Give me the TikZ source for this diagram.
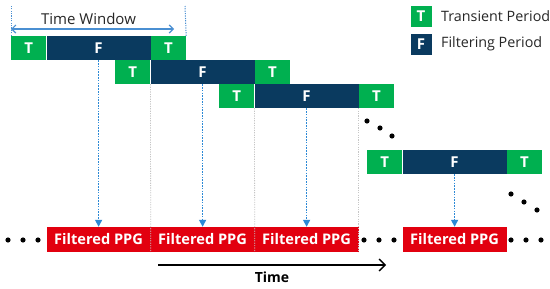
\documentclass[tikz,border=0pt]{standalone}
\usepackage{fontspec}
\setmainfont{Open Sans}
\usetikzlibrary{arrows.meta, positioning}
\definecolor{cgreen}{HTML}{00B050}
\definecolor{cnavy}{HTML}{0A3A5F}
\definecolor{cred}{HTML}{E2000F}
\definecolor{cblue}{HTML}{2C89D6}
\definecolor{cwin}{HTML}{4A8FD2}
\definecolor{cgrey}{HTML}{C6C6C6}
\tikzset{
  every picture/.style={x=1pt, y=-1pt},
  cell/.style={fill=#1, inner sep=0pt, minimum height=24pt, text=white, font=\bfseries\fontsize{15}{15}\selectfont},
  tcell/.style={cell=cgreen, minimum width=35pt},
  fcell/.style={cell=cnavy, minimum width=104pt},
  ppg/.style={fill=cred, inner sep=0pt, minimum width=104pt, minimum height=25pt, text=white, font=\bfseries\fontsize{14.6}{14.6}\selectfont},
  flow/.style={-{Triangle[length=7pt, width=7pt]}, draw=cblue, line width=1.5pt, dash pattern=on 1.6pt off 1.2pt},
  guide/.style={draw=cgrey, line width=0.8pt, dash pattern=on 1.2pt off 1.2pt},
}
\begin{document}
\begin{tikzpicture}[
  legbox/.style={inner sep=0pt, minimum size=21pt, text=white, font=\bfseries\fontsize{15}{15}\selectfont},
  legtext/.style={right=6pt, font=\fontsize{14.3}{14.3}\selectfont, text=black!85},
  dot/.style={fill=black}]
  \useasboundingbox (0,0) rectangle (550,289);
  % window rows
  \foreach \n/\x/\y in {1/11/48, 2/115/72, 3/219/96, 4/367/162} {
    \node[tcell, anchor=west] (t\n a) at (\x,\y) {T};
    \node[fcell, right=0pt of t\n a] (f\n) {F};
    \node[tcell, right=0pt of f\n] (t\n b) {T};
  }
  % time window
  \coordinate (w1) at (11,6);
  \coordinate (w2) at (185,6);
  \draw[draw=cwin, line width=1pt, dash pattern=on 1.2pt off 1.2pt] (t1a.north west) -- (w1);
  \draw[draw=cwin, line width=1pt, dash pattern=on 1.2pt off 1.2pt] (t1b.north east) -- (w2);
  \coordinate (wa) at (11,29);
  \coordinate (wb) at (174,29);
  \draw[{Straight Barb[length=4pt]}-{Straight Barb[length=4pt]}, draw=cwin, line width=1.2pt] (wa) -- node[above=0pt, xshift=-4pt, text=black!85, font=\fontsize{15}{15}\selectfont] {Time Window} (wb);
  % filtered outputs
  \foreach \n in {1,2,3,4}
    \node[ppg] (ppg\n) at (f\n |- 0,239.5) {Filtered PPG};
  \draw[guide] (f2.south west) -- (ppg1.south east);
  \draw[guide] (f3.south west) -- (ppg2.south east);
  \draw[guide] (f3.south east) -- (ppg3.south east);
  \foreach \n in {1,2,3,4} \draw[flow] (f\n) -- (ppg\n);
  % dots
  \foreach \x/\y in {8/240, 23/240, 38/240, 364/240, 379/240, 394/240, 511/240, 526/240, 541/240,
                     367/121, 380/128, 392/136, 511/194, 524/202, 537/210}
    \fill[dot] (\x,\y) circle (2.6pt);
  % time axis
  \coordinate (ts) at (158,265);
  \coordinate (te) at (386,265);
  \draw[-{Straight Barb[length=6pt]}, line width=1.4pt] (ts) -- node[below=3pt, font=\bfseries\fontsize{14}{14}\selectfont] {Time} (te);
  % legend
  \node[legbox, fill=cgreen] (legt) at (421,16) {T};
  \node[legtext] at (legt.east) {Transient Period};
  \node[legbox, fill=cnavy] (legf) at (421,44) {F};
  \node[legtext] at (legf.east) {Filtering Period};
\end{tikzpicture}
\end{document}
